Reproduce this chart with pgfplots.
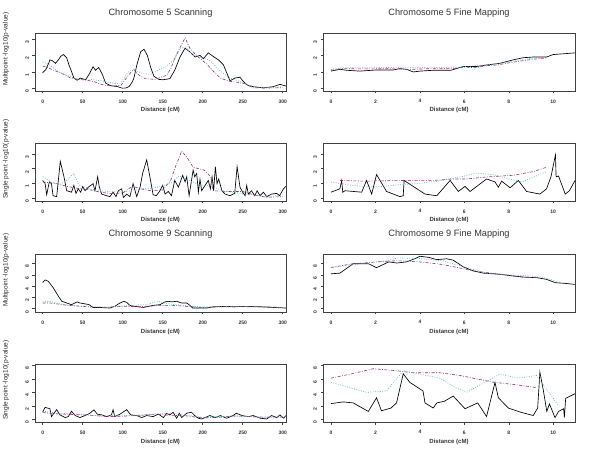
\documentclass[border=0pt]{standalone}
\usepackage{fontspec}
\setmainfont{Liberation Sans}
\usepackage{pgfplots}
\pgfplotsset{compat=1.18}

\definecolor{rpurple}{RGB}{145,50,105}
\definecolor{rcyan}{RGB}{80,180,205}

\pgfplotsset{
  rpanel/.style={
    width=251pt, height=58pt, scale only axis,
    axis line style={black!75, line width=0.7pt},
    tick align=outside, major tick length=2.5pt,
    tick style={black!75, line width=0.5pt},
    xtick pos=bottom, ytick pos=left,
    /pgf/number format/assume math mode=true,
    ticklabel style={font=\fontsize{5}{6}\selectfont\bfseries, text=black!80},
    xticklabel style={yshift=-2.5pt},
    yticklabel style={rotate=90, anchor=south, xshift=-3pt},
    xlabel={Distance (cM)},
    xlabel style={font=\fontsize{6}{7}\selectfont\bfseries, text=black!80,
      at={(axis description cs:0.5,0)}, anchor=base, yshift=-21pt},
    ylabel style={font=\fontsize{6.5}{7}\selectfont, text=black!85,
      at={(axis description cs:-0.116,0.72)}, anchor=center, rotate=0},
    title style={font=\fontsize{9.2}{10}\selectfont, text=black!80,
      at={(axis description cs:0.5,1)}, anchor=base, yshift=11pt},
    clip=true,
  },
  scan/.style={rpanel, xmin=-9.6, xmax=304.1, xtick={0,50,...,300}},
  fine/.style={rpanel, width=252pt, xmin=-0.36, xmax=10.98, xtick={0,2,...,10}},
  lo/.style={ymin=-0.15, ymax=3.35, ytick={0,1,2,3}},
  lo2/.style={ymin=-0.2, ymax=3.75, ytick={0,1,2,3}},
  hi/.style={ymin=-0.6, ymax=9.7, ytick={0,2,...,8}},
  hi2/.style={ymin=-0.4, ymax=8.2, ytick={0,2,...,8}},
  blk/.style={black, line width=0.65pt},
  pur/.style={rpurple, line width=0.6pt, dash pattern=on 3pt off 1.5pt on 0.8pt off 1.5pt},
  cya/.style={rcyan, line width=0.7pt, dash pattern=on 0.8pt off 1.6pt},
}

\begin{document}
\begin{tikzpicture}
\useasboundingbox (0,0) rectangle (600pt,-462pt);

% ---------- row 1: Chromosome 5 scanning, multipoint
\begin{axis}[scan, lo, at={(35pt,-33pt)}, anchor=north west,
  title={Chromosome 5 Scanning}, ylabel={Multipoint -log10(p-value)}]
\addplot[blk] coordinates {
(0,0.95)(4,1.15)(8,1.58)(9,1.73)(12,1.68)(16,1.52)(20,1.75)(22.5,1.94)(26,2.05)(30,1.85)(33,1.4)(35,1.16)(37,0.9)(39,0.63)(43,0.5)(47,0.63)(53.7,0.53)(57.9,0.85)(63,1.31)(66,1.1)(70,1.27)(74.6,0.85)(78.7,0.32)(85,0.17)(93,0.12)(99.5,0.02)(104,0.03)(108,0.12)(112,0.4)(114,0.63)(118,1.48)(122.5,2.22)(126.6,2.37)(130.8,2.0)(135,1.27)(139,0.74)(145,0.55)(150,0.53)(155,0.56)(159,0.6)(165,1.1)(171.6,1.9)(177.9,2.43)(184,2.21)(190.5,1.9)(196.6,2.0)(200.8,1.8)(207,2.15)(213,1.94)(219.6,1.73)(225.8,1.44)(230,0.95)(234,0.47)(240.4,0.63)(246.6,0.68)(250.8,0.42)(255.8,0.21)(263,0.11)(275.8,0.04)(288,0.11)(296.6,0.25)(304,0.15)
};
\addplot[pur] coordinates {
(0,1.35)(6,1.27)(14,1.1)(26.6,0.85)(35,0.63)(45,0.55)(55,0.5)(64,0.42)(72.5,0.25)(80,0.18)(90,0.15)(98,0.2)(108,0.85)(114,1.16)(118,0.9)(122.5,0.74)(128,0.6)(140,0.55)(155,0.8)(160,1.2)(165,1.8)(172,2.5)(178,3.06)(184,2.43)(192,2.0)(205,1.48)(213,1.06)(222,0.63)(232,0.45)(242.5,0.38)(252,0.3)(263,0.04)(280,0.03)(300,0.05)
};
\addplot[cya] coordinates {
(0,1.6)(8,1.45)(20,1.0)(35,0.7)(45,0.55)(60,0.55)(75,0.45)(90,0.3)(97.5,0.32)(108,1.06)(115,1.1)(125,0.9)(135,0.85)(146.6,1.16)(152.9,1.27)(163,1.69)(171.6,2.43)(178,2.5)(188,2.0)(198,1.9)(209,1.69)(221.7,1.06)(234,0.63)(246.6,0.42)(260,0.15)(275,0.05)(300,0.1)
};
\end{axis}

\begin{axis}[fine, lo, at={(323pt,-33pt)}, anchor=north west,
  title={Chromosome 5 Fine Mapping}]
\addplot[blk] coordinates {
(0,1.05)(0.4,1.16)(0.7,1.1)(1.3,1.05)(2.05,1.12)(2.8,1.12)(3.1,1.2)(3.4,1.16)(3.7,1.0)(4.0,1.05)(4.6,1.1)(5.4,1.1)(5.96,1.33)(6.56,1.33)(7.0,1.42)(7.6,1.52)(8.2,1.73)(8.66,1.86)(9.1,1.9)(9.7,1.9)(10.0,2.05)(10.5,2.1)(10.98,2.15)
};
\addplot[pur] coordinates {
(0,1.1)(0.5,1.2)(1.5,1.18)(2.5,1.2)(3.5,1.15)(4.5,1.2)(5.5,1.2)(6,1.3)(6.5,1.25)(7,1.38)(7.5,1.42)(8,1.55)(8.5,1.65)(9,1.75)(9.7,1.85)
};
\addplot[cya] coordinates {
(0,1.15)(0.5,1.25)(1.5,1.25)(2.5,1.27)(3.5,1.25)(4.5,1.28)(5.5,1.25)(6,1.32)(7,1.42)(8,1.6)(9,1.82)(9.7,1.9)
};
\end{axis}

% ---------- row 2: Chromosome 5, single point
\begin{axis}[scan, lo2, at={(35pt,-143pt)}, anchor=north west,
  ylabel={Single point -log10(p-value)}]
\addplot[blk] coordinates {
(0,1.2)(3,1.0)(5,0.23)(8.3,1.1)(11,0.98)(13,0.16)(17.5,0.1)(22,2.5)(26.6,1.45)(30,0.5)(36,0.4)(39,0.87)(41.6,0.32)(44.5,0.63)(47.5,0.4)(50,0.79)(53,0.5)(57,0.74)(63,0.98)(65.4,0.5)(68.7,1.45)(70.8,0.74)(73.7,0.27)(80,0.16)(84,0.1)(88,0.4)(91.6,0.1)(94.6,0.5)(98.7,0.63)(100.8,0.04)(105,0.27)(109,0.1)(113,0.98)(117.5,0.1)(121.7,0.74)(125,1.7)(130,2.6)(134,1.45)(138,0.23)(142,0.16)(146.6,0.5)(150,0.87)(153,0.27)(157,0.45)(161,0.16)(165,1.2)(169.6,0.74)(175,1.55)(178,1.1)(180,1.45)(183,0.16)(186,1.2)(188,1.9)(190,1.45)(192.5,1.68)(194.6,0.4)(196.6,1.27)(198.7,0.5)(203,0.87)(207,1.2)(209.6,0.63)(211.7,1.45)(213.7,0.5)(215.8,2.14)(217.9,0.98)(220,1.3)(224,0.5)(228,0.27)(234,0.16)(240,0.32)(243,2.14)(246.6,0.74)(250,0.4)(253,0.16)(255,0.87)(257,0.27)(261,0.5)(265,0.16)(268,0.5)(271.6,0.16)(275.8,0.4)(280,0.1)(286,0.27)(292.5,0.32)(296,0.16)(301,0.63)(304,0.8)
};
\addplot[pur] coordinates {
(0,1.1)(8,1.05)(16,1.0)(30,0.8)(45,0.65)(60,0.55)(72,0.4)(85,0.3)(100,0.35)(112,0.8)(125,0.6)(135,0.5)(150,0.55)(160,1.2)(165,2.0)(173.7,3.2)(180,2.8)(188,2.1)(202,1.9)(210,1.45)(213,0.5)(230,0.45)(250,0.45)(265,0.2)(280,0.05)(300,0.1)
};
\addplot[cya] coordinates {
(0,1.45)(10,1.1)(20,0.9)(30,1.2)(39,1.68)(45,0.9)(60,0.6)(80,0.45)(100,0.4)(120,0.6)(140,0.7)(160,1.0)(170,1.5)(180,1.3)(195,0.9)(210,0.85)(225,0.5)(250,0.3)(280,0.1)(300,0.2)
};
\end{axis}

\begin{axis}[fine, lo2, at={(323pt,-143pt)}, anchor=north west]
\addplot[blk] coordinates {
(0,0.4)(0.4,0.63)(0.48,1.2)(0.53,0.4)(0.63,0.5)(1.38,0.4)(1.6,1.2)(1.83,0.27)(2.05,1.6)(2.5,0.45)(3.1,0.1)(3.25,0.16)(3.29,1.2)(4.23,0.27)(4.76,0.16)(5.36,1.2)(5.73,0.45)(6.03,0.79)(6.26,0.45)(7.0,1.3)(7.38,1.1)(7.53,0.74)(7.68,1.15)(8.06,0.7)(8.43,1.2)(8.8,0.45)(9.4,0.27)(9.7,0.63)(9.9,1.45)(10.1,2.95)(10.13,1.45)(10.24,1.5)(10.54,0.27)(10.73,0.5)(10.98,1.2)
};
\addplot[pur] coordinates {
(0.4,1.2)(1.5,1.15)(2.5,1.18)(3.5,1.2)(4.6,1.2)(5.5,1.3)(6.1,1.3)(7.1,1.45)(8.2,1.55)(9.1,1.8)(9.7,2.1)
};
\addplot[cya] coordinates {
(0,1.1)(1,0.85)(2,0.75)(3,0.9)(4,1.0)(5,1.2)(6,1.5)(6.5,1.7)(7.3,1.6)(8,1.3)(8.6,1.1)(9.7,1.8)
};
\end{axis}

% ---------- row 3: Chromosome 9 scanning, multipoint
\begin{axis}[scan, hi, at={(35pt,-254pt)}, anchor=north west,
  title={Chromosome 9 Scanning}, ylabel={Multipoint -log10(p-value)}]
\addplot[blk] coordinates {
(0,4.65)(3,5.1)(7,4.85)(13,3.75)(19.5,2.24)(23.7,1.33)(30,1.0)(36,0.7)(43,1.2)(46.6,1.0)(54,0.82)(58,0.7)(63,0.21)(71.6,0.21)(84,0.1)(90,0.4)(96.6,1.0)(101.6,1.3)(105,1.1)(109,0.58)(115,0.4)(126,0.21)(138,0.58)(146.6,0.7)(153,1.2)(157,1.3)(161,1.2)(167.5,1.3)(173.7,1.0)(180,1.0)(184,0.58)(187.5,0.1)(196.6,0.1)(205,0.1)(213.3,0.33)(230,0.4)(238,0.33)(255,0.4)(271.6,0.33)(288.5,0.21)(304,0.1)
};
\addplot[pur] coordinates {
(0,1.0)(9,1.0)(20,0.8)(30,0.6)(45,0.45)(60,0.3)(80,0.25)(100,0.4)(120,0.35)(140,0.5)(160,0.6)(180,0.4)(200,0.2)(220,0.3)(250,0.35)(280,0.3)(300,0.2)
};
\addplot[cya] coordinates {
(0,1.2)(9,1.3)(20,0.9)(40,0.5)(60,0.3)(80,0.25)(100,0.5)(130,0.7)(143,1.3)(160,0.8)(180,0.5)(200,0.3)(250,0.35)(300,0.25)
};
\end{axis}

\begin{axis}[fine, hi, at={(323pt,-254pt)}, anchor=north west,
  title={Chromosome 9 Fine Mapping}]
\addplot[blk] coordinates {
(0,6.18)(0.4,6.3)(1.0,7.98)(1.68,7.98)(2.05,7.27)(2.6,8.3)(2.96,8.1)(3.4,8.3)(3.8,8.9)(4.0,9.3)(4.4,9.1)(4.76,8.7)(5.2,8.85)(5.5,8.6)(5.96,7.4)(6.4,6.7)(6.86,6.3)(7.6,6.1)(8.2,5.8)(8.66,5.6)(9.26,5.5)(9.7,5.2)(10.1,4.6)(10.5,4.5)(10.98,4.3)
};
\addplot[pur] coordinates {
(0,7.3)(0.86,7.9)(2.05,8.3)(3.0,8.5)(4.0,8.3)(4.9,7.9)(5.7,7.3)(6.4,6.7)(7.2,6.3)(8.0,5.9)(8.6,5.6)(9.3,5.5)
};
\addplot[cya] coordinates {
(0,7.3)(1.0,7.8)(2.5,8.5)(3.0,9.0)(4.0,8.9)(5.0,8.5)(6.0,7.4)(7.0,6.3)(8.0,6.0)(9.0,5.8)(9.7,5.4)(10.2,4.8)
};
\end{axis}

% ---------- row 4: Chromosome 9, single point
\begin{axis}[scan, hi2, at={(35pt,-364pt)}, anchor=north west,
  ylabel={Single point -log10(p-value)}]
\addplot[blk] coordinates {
(0,1.1)(3,1.77)(9,1.57)(11,0.4)(14,0.9)(17.5,1.43)(21.6,0.66)(28,0.26)(32,0.4)(36,1.2)(40.6,0.56)(46.6,0.26)(53,0.56)(59,0.9)(64,1.4)(68.3,0.76)(73.7,0.66)(80,0.4)(86,0.66)(88,1.43)(90,0.4)(96.6,0.76)(105,1.43)(110,0.66)(117.5,0.56)(123.7,0.26)(130,0.56)(138,0.4)(144.6,0.76)(151,0.26)(155,0.9)(159,0.66)(163,1.05)(167.5,0.16)(170.8,0.9)(173.7,0.26)(180,0.9)(186,1.05)(190,0.56)(194.6,0.16)(198.7,0.05)(203,0.26)(209,0.56)(215.8,0.26)(222,0.56)(230,0.16)(238,0.56)(242,0.9)(249,0.56)(257,0.4)(263,0.56)(272,0.16)(280,0.05)(286,0.56)(292.5,0.26)(296.6,0.66)(301,0.16)(304,0.56)
};
\addplot[pur] coordinates {
(0,1.0)(20,0.8)(40,0.7)(60,0.6)(80,0.4)(100,0.45)(120,0.6)(140,0.75)(160,0.6)(180,0.5)(200,0.2)(220,0.3)(240,0.5)(260,0.4)(280,0.3)(300,0.35)
};
\addplot[cya] coordinates {
(0,1.2)(20,0.9)(40,0.8)(60,0.6)(80,0.5)(100,0.6)(120,0.5)(140,0.8)(160,0.9)(180,0.6)(200,0.3)(220,0.4)(240,0.5)(270,0.3)(300,0.4)
};
\end{axis}

\begin{axis}[fine, hi2, at={(323pt,-364pt)}, anchor=north west]
\addplot[blk] coordinates {
(0,2.33)(0.55,2.58)(1.0,2.43)(1.68,1.17)(2.05,3.2)(2.27,1.27)(2.7,1.67)(2.95,2.43)(3.25,6.74)(3.55,5.47)(4.14,4.2)(4.23,2.43)(4.6,1.67)(4.76,2.43)(5.1,2.68)(5.5,3.44)(6.03,1.57)(6.6,2.43)(7.0,0.41)(7.38,5.47)(7.53,3.2)(7.98,1.67)(8.58,1.01)(9.1,0.56)(9.3,1.67)(9.4,7.0)(9.56,4.2)(9.71,1.17)(9.83,2.28)(10.08,0.25)(10.24,1.17)(10.47,1.57)(10.5,0.25)(10.56,3.1)(10.98,3.8)
};
\addplot[pur] coordinates {
(0,6.1)(1.0,6.8)(1.9,7.5)(2.95,7.2)(3.7,6.9)(4.9,6.9)(5.8,6.5)(7.3,5.5)(8.4,5.1)(9.25,4.7)
};
\addplot[cya] coordinates {
(0,5.5)(1.6,4.0)(2.5,4.2)(3.25,7.2)(4.9,6.1)(5.6,4.7)(6.1,4.0)(7.6,6.7)(8.4,6.1)(9.25,6.5)(10.2,2.2)
};
\end{axis}
\end{tikzpicture}
\end{document}
